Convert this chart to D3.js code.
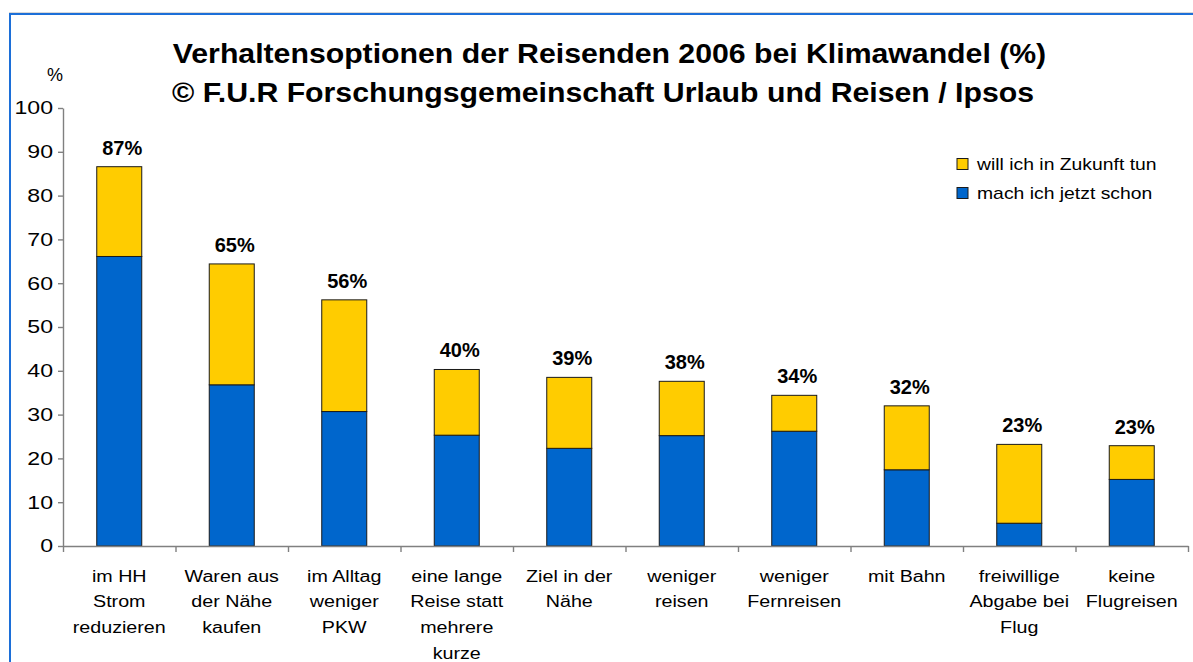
<!DOCTYPE html>
<html>
<head>
<meta charset="utf-8">
<script src="https://cdn.jsdelivr.net/npm/d3@7"></script>
<style>
  html, body { margin: 0; padding: 0; background: #fff; }
  svg { display: block; font-family: "Liberation Sans", Arial, sans-serif; }
</style>
</head>
<body>
<svg id="chart" width="1193" height="662"></svg>
<script>
// ---- data ----
const categories = [
  ["im HH", "Strom", "reduzieren"],
  ["Waren aus", "der Nähe", "kaufen"],
  ["im Alltag", "weniger", "PKW"],
  ["eine lange", "Reise statt", "mehrere", "kurze"],
  ["Ziel in der", "Nähe"],
  ["weniger", "reisen"],
  ["weniger", "Fernreisen"],
  ["mit Bahn"],
  ["freiwillige", "Abgabe bei", "Flug"],
  ["keine", "Flugreisen"]
];
const seriesNames = ["mach ich jetzt schon", "will ich in Zukunft tun"];
const machJetzt = [66.1, 36.8, 30.7, 25.3, 22.3, 25.2, 26.2, 17.4, 5.2, 15.2];
const willZukunft = [20.5, 27.6, 25.5, 15.0, 16.2, 12.4, 8.2, 14.6, 18.0, 7.7];
const totalLabels = ["87%", "65%", "56%", "40%", "39%", "38%", "34%", "32%", "23%", "23%"];
const yTicks = [0, 10, 20, 30, 40, 50, 60, 70, 80, 90, 100];
const titleLines = [
  "Verhaltensoptionen der Reisenden 2006 bei Klimawandel (%)",
  "© F.U.R Forschungsgemeinschaft Urlaub und Reisen / Ipsos"
];

// ---- layout ----
const svg = d3.select("#chart");
const colors = { now: "#0066CC", future: "#FFCC00" };
const plot = { left: 63, right: 1188, top: 108, bottom: 546 };

// frame
svg.append("line").attr("x1", 9).attr("x2", 1193).attr("y1", 12.5).attr("y2", 12.5)
  .attr("stroke", "#d8d8d8").attr("stroke-width", 1);
svg.append("line").attr("x1", 9).attr("x2", 1193).attr("y1", 14).attr("y2", 14)
  .attr("stroke", "#1C6FD8").attr("stroke-width", 2);
svg.append("line").attr("x1", 10).attr("x2", 10).attr("y1", 13).attr("y2", 662)
  .attr("stroke", "#1C6FD8").attr("stroke-width", 2);

const idx = d3.range(categories.length);
const x = d3.scaleBand().domain(idx).range([plot.left, plot.right])
  .paddingInner(0.6).paddingOuter(0.3);
const y = d3.scaleLinear().domain([0, 100]).range([plot.bottom, plot.top]);
const xb = d3.scaleLinear().domain([0, categories.length]).range([plot.left, plot.right]);

// stacked data
const rows = idx.map(i => ({ i, now: machJetzt[i], future: willZukunft[i] }));
const stack = d3.stack().keys(["now", "future"])(rows);

// bars
svg.append("g").selectAll("g").data(stack).join("g")
  .attr("fill", d => colors[d.key])
  .selectAll("rect").data(d => d).join("rect")
  .attr("x", d => x(d.data.i))
  .attr("width", x.bandwidth())
  .attr("y", d => y(d[1]))
  .attr("height", d => y(d[0]) - y(d[1]))
  .attr("stroke", "#1a1a1a").attr("stroke-width", 1);

// y axis
const yAxis = svg.append("g").attr("transform", `translate(${plot.left},0)`)
  .call(d3.axisLeft(y).tickValues(yTicks).tickSize(5).tickSizeOuter(0));
yAxis.select(".domain").attr("stroke", "#808080").attr("stroke-width", 1.4);
yAxis.selectAll(".tick line").attr("stroke", "#808080").attr("stroke-width", 1.4);
yAxis.selectAll(".tick text")
  .attr("x", 0)
  .attr("transform", "translate(-10,0) scale(1.25,1)")
  .attr("fill", "#000")
  .style("font-size", "18.5px")
  .style("font-family", "'Liberation Sans', Arial, sans-serif");

// x axis
const xAxis = svg.append("g").attr("transform", `translate(0,${plot.bottom})`)
  .call(d3.axisBottom(xb).tickValues(d3.range(categories.length + 1)).tickFormat("").tickSize(6).tickSizeOuter(0));
xAxis.select(".domain").attr("stroke", "#808080").attr("stroke-width", 1.4);
xAxis.selectAll(".tick line").attr("stroke", "#808080").attr("stroke-width", 1.4);

// category labels
const catG = svg.append("g").selectAll("g").data(categories).join("g")
  .attr("transform", (d, i) => `translate(${x(i) + x.bandwidth() / 2},0)`);
catG.selectAll("text").data(d => d).join("text")
  .attr("text-anchor", "middle")
  .attr("transform", (d, j) => `translate(0,${581.7 + j * 25.6}) scale(1.23,1)`)
  .attr("font-size", 16)
  .attr("fill", "#000")
  .text(d => d);

// total labels
svg.append("g").selectAll("text").data(rows).join("text")
  .attr("x", d => x(d.i) + x.bandwidth() / 2 + 3)
  .attr("y", d => y(d.now + d.future) - 12)
  .attr("text-anchor", "middle")
  .attr("font-size", 20)
  .attr("font-weight", "bold")
  .attr("fill", "#000")
  .text(d => totalLabels[d.i]);

// % unit
svg.append("text").attr("x", 55).attr("y", 81).attr("text-anchor", "middle")
  .attr("font-size", 18).attr("fill", "#000").text("%");

// title
svg.append("g").selectAll("text").data(titleLines).join("text")
  .attr("text-anchor", "middle")
  .attr("transform", (d, i) => `translate(${i === 0 ? 609.5 : 603},${i === 0 ? 63.3 : 101.7}) scale(1.08,1)`)
  .attr("font-size", 28)
  .attr("font-weight", "bold")
  .attr("fill", "#000")
  .text(d => d);

// legend
const legendItems = [
  { name: seriesNames[1], color: colors.future },
  { name: seriesNames[0], color: colors.now }
];
const lg = svg.append("g").selectAll("g").data(legendItems).join("g")
  .attr("transform", (d, i) => `translate(957,${158.5 + i * 29})`);
lg.append("rect").attr("width", 11).attr("height", 11)
  .attr("fill", d => d.color).attr("stroke", "#1a1a1a").attr("stroke-width", 1);
lg.append("text")
  .attr("transform", "translate(20,11) scale(1.21,1)")
  .attr("font-size", 16).attr("fill", "#000")
  .text(d => d.name);
</script>
</body>
</html>
